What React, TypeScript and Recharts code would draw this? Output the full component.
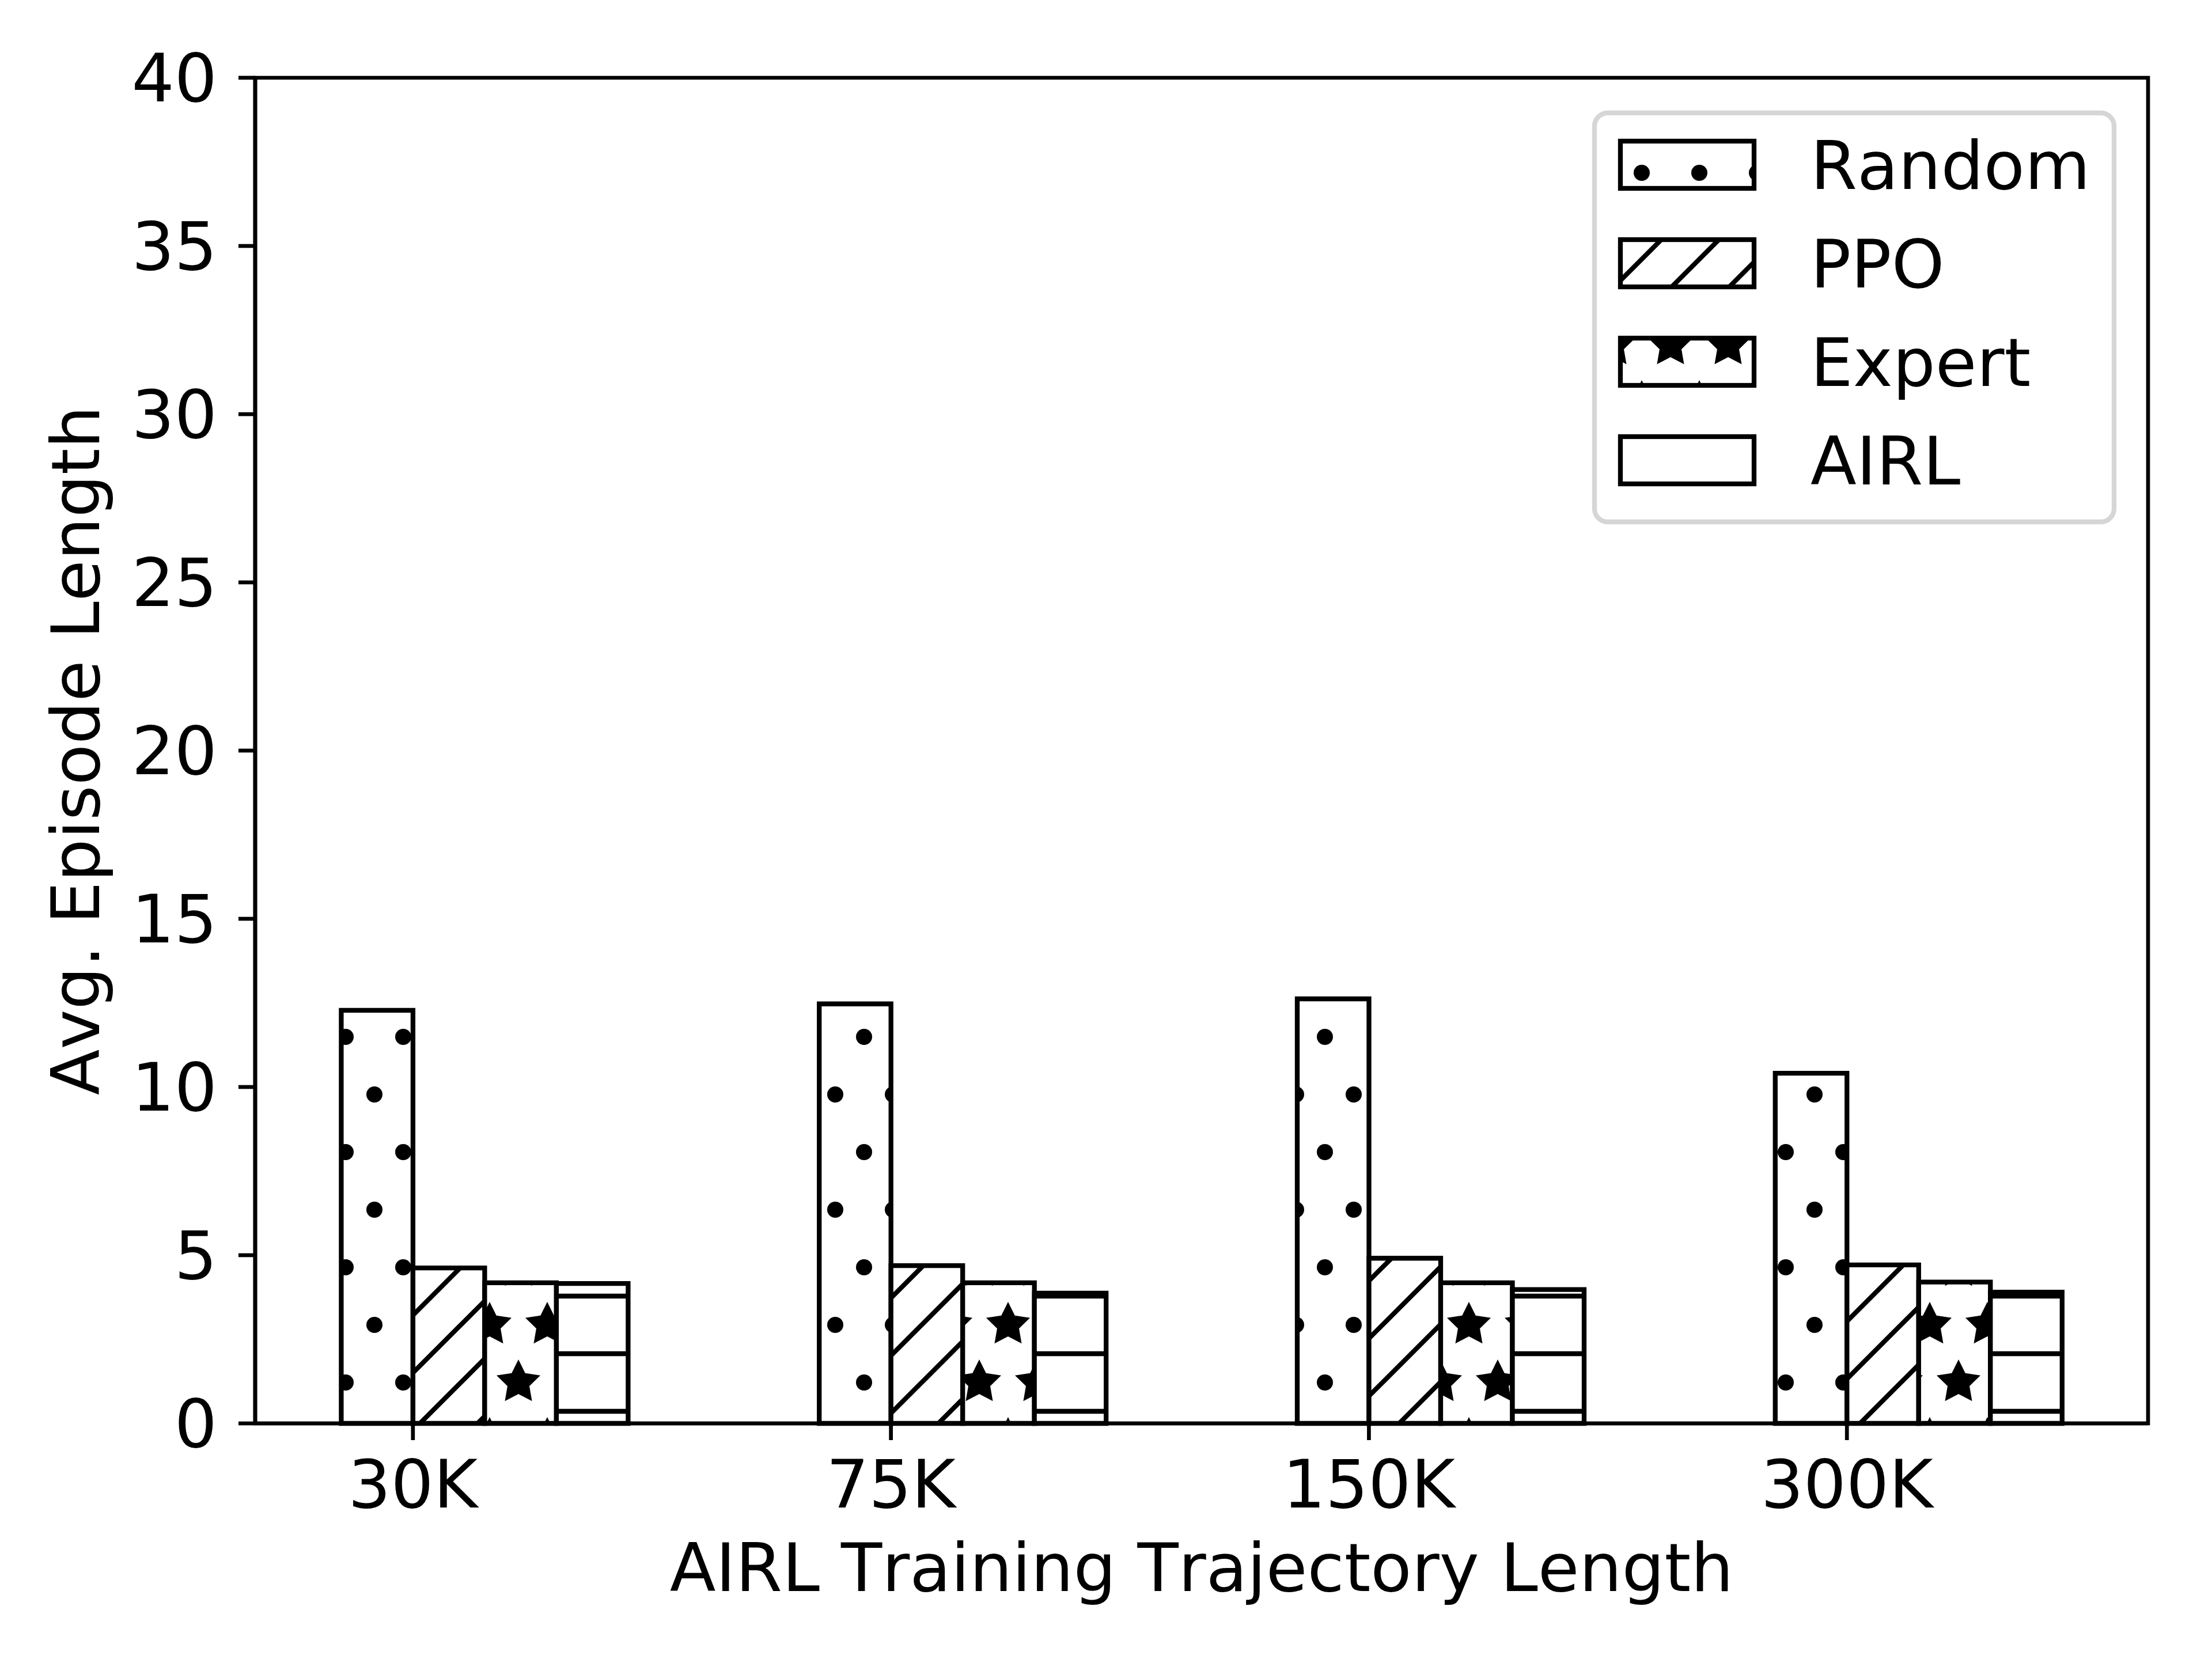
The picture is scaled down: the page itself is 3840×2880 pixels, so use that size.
import React from "react";
import { BarChart, Bar, XAxis, YAxis, Legend, Label, ReferenceArea } from "recharts";

const categories = ["30K", "75K", "150K", "300K"];
const randomValues = [12.28, 12.47, 12.62, 10.41];
const ppoValues = [4.62, 4.69, 4.91, 4.71];
const expertValues = [4.18, 4.18, 4.18, 4.2];
const airlValues = [4.16, 3.87, 3.98, 3.9];
const yTicks = [0, 5, 10, 15, 20, 25, 30, 35, 40];
const xTicks = [0, 1, 2, 3];
const xDomain = [-0.33, 3.63];
const yDomain = [0, 40];

const series = [
  { key: "random", name: "Random", pattern: "hatchDots" },
  { key: "ppo", name: "PPO", pattern: "hatchDiag" },
  { key: "expert", name: "Expert", pattern: "hatchStars" },
  { key: "airl", name: "AIRL", pattern: "hatchHoriz" },
];

// bars sit at i-0.15 .. i+0.45 like matplotlib, so the group centre is i+0.15
const data = categories.map((name, i) => ({
  name,
  pos: i + 0.15,
  random: randomValues[i],
  ppo: ppoValues[i],
  expert: expertValues[i],
  airl: airlValues[i],
}));

const FONT = "DejaVu Sans";
const FS = 116.67;
const EDGE = 8.3;
const SPINE = 6.7;
const noKern = { fontKerning: "none" as const };

const starPath = (cx: number, cy: number, R: number, r: number) => {
  const pts: string[] = [];
  for (let k = 0; k < 10; k++) {
    const rad = k % 2 === 0 ? R : r;
    const a = (Math.PI / 5) * k;
    pts.push(`${cx + rad * Math.sin(a)},${cy - rad * Math.cos(a)}`);
  }
  return `M${pts.join("L")}Z`;
};

const gridPts = [
  [0, 0],
  [100, 0],
  [0, 200],
  [100, 200],
  [50, 100],
];

const Patterns = () => (
  <defs>
    <pattern id="hatchDots" patternUnits="userSpaceOnUse" x={0} y={0} width={100} height={200}>
      <rect width={100} height={200} fill="#fff" />
      {gridPts.map(([cx, cy], i) => (
        <circle key={i} cx={cx} cy={cy} r={14} fill="#000" />
      ))}
    </pattern>
    <pattern id="hatchDiag" patternUnits="userSpaceOnUse" x={0} y={0} width={100} height={100}>
      <rect width={100} height={100} fill="#fff" />
      <path d="M-10,110L110,-10M-10,10L10,-10M90,110L110,90" stroke="#000" strokeWidth={EDGE} />
    </pattern>
    <pattern id="hatchStars" patternUnits="userSpaceOnUse" x={0} y={0} width={100} height={200}>
      <rect width={100} height={200} fill="#fff" />
      {gridPts.map(([cx, cy], i) => (
        <path key={i} d={starPath(cx, cy, 40, 20)} fill="#000" />
      ))}
    </pattern>
    <pattern id="hatchHoriz" patternUnits="userSpaceOnUse" x={0} y={0} width={100} height={100}>
      <rect width={100} height={100} fill="#fff" />
      <line x1={0} y1={50} x2={100} y2={50} stroke="#000" strokeWidth={EDGE} />
    </pattern>
  </defs>
);

const LegendBox = () => {
  const rows = [286, 457, 628, 799];
  return (
    <svg width={3840} height={1000} style={{ position: "absolute", left: 0, top: 0 }}>
      <rect
        x={2768}
        y={196}
        width={902}
        height={710}
        rx={23}
        fill="#fff"
        fillOpacity={0.8}
        stroke="#d6d6d6"
        strokeWidth={EDGE}
      />
      {series.map((s, i) => (
        <g key={s.key}>
          <rect
            x={2813}
            y={rows[i] - 41}
            width={232}
            height={82}
            fill={`url(#${s.pattern})`}
            stroke="#000"
            strokeWidth={EDGE}
          />
          <text x={3143} y={rows[i] + 42} fontFamily={FONT} fontSize={FS} fill="#000" style={noKern}>
            {s.name}
          </text>
        </g>
      ))}
    </svg>
  );
};

const App = () => {
  const tickStyle = { fill: "#000", fontSize: FS, fontFamily: FONT, fontKerning: "none" };
  const lineStyle = { stroke: "#000", strokeWidth: SPINE };
  return (
    <div style={{ position: "absolute", left: 0, top: 0, background: "#fff" }}>
      <BarChart
        width={3840}
        height={2880}
        data={data}
        margin={{ top: 135, right: 111, bottom: 0, left: 243 }}
        barSize={124.5}
        barGap={0}
      >
        <Patterns />
        <XAxis
          dataKey="pos"
          type="number"
          domain={xDomain}
          allowDataOverflow
          ticks={xTicks}
          interval={0}
          tickFormatter={(v: number) => categories[v]}
          height={409}
          tick={tickStyle}
          tickSize={29}
          tickMargin={34}
          tickLine={lineStyle}
          axisLine={lineStyle}
        >
          <Label
            content={(props: any) => {
              const vb = props.viewBox;
              return (
                <text
                  x={vb.x + vb.width / 2}
                  y={vb.y + 291}
                  textAnchor="middle"
                  fontFamily={FONT}
                  fontSize={FS}
                  fill="#000"
                  style={noKern}
                >
                  AIRL Training Trajectory Length
                </text>
              );
            }}
          />
        </XAxis>
        <YAxis
          type="number"
          domain={yDomain}
          ticks={yTicks}
          interval={0}
          width={200}
          tick={tickStyle}
          tickSize={29}
          tickMargin={37}
          tickLine={lineStyle}
          axisLine={lineStyle}
        >
          <Label
            content={(props: any) => {
              const vb = props.viewBox;
              const x = vb.x - 71;
              const y = vb.y + vb.height / 2;
              return (
                <text
                  x={x}
                  y={y}
                  transform={`rotate(-90 ${x} ${y})`}
                  textAnchor="middle"
                  fontFamily={FONT}
                  fontSize={FS}
                  fill="#000"
                  style={noKern}
                >
                  Avg. Episode Length
                </text>
              );
            }}
          />
        </YAxis>
        {series.map((s) => (
          <Bar
            key={s.key}
            dataKey={s.key}
            name={s.name}
            fill={`url(#${s.pattern})`}
            stroke="#000"
            strokeWidth={EDGE}
            isAnimationActive={false}
          />
        ))}
        <ReferenceArea
          x1={xDomain[0]}
          x2={xDomain[1]}
          y1={yDomain[0]}
          y2={yDomain[1]}
          fill="none"
          fillOpacity={0}
          stroke="#000"
          strokeWidth={SPINE}
          ifOverflow="visible"
        />
        <Legend
          layout="horizontal"
          verticalAlign="middle"
          align="center"
          wrapperStyle={{ left: 0, top: 0, width: 3840, height: 1000, pointerEvents: "none" }}
          content={() => <LegendBox />}
        />
      </BarChart>
    </div>
  );
};

export default App;
